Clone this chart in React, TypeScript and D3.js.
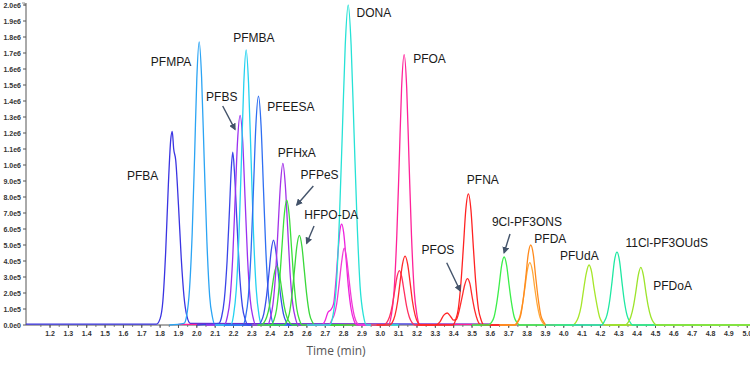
import React from "react";
import * as d3 from "d3";

type Pt = [number, number];

// each trace: [retention time (min), intensity (x1e5 counts)]
const pfba: Pt[] = [[1.069,0.06],[1.78,0.06],[1.80,0.4],[1.815,1.5],[1.83,4.5],[1.845,8.8],[1.858,11.6],[1.866,12.1],[1.874,11.0],[1.885,10.3],[1.9,7.5],[1.915,4.2],[1.93,1.8],[1.945,0.6],[1.965,0.1],[3.6,0.06]];
const pfmpa: Pt[] = [[1.85,0],[1.93,0.1],[1.945,0.6],[1.96,2.2],[1.975,5.8],[1.988,10.6],[2.0,15.4],[2.013,17.7],[2.026,15.5],[2.04,10.4],[2.055,5.2],[2.07,1.8],[2.085,0.5],[2.1,0],[2.4,0]];
const blue219: Pt[] = [[2.0,0],[2.12,0.1],[2.135,0.5],[2.15,1.6],[2.165,4.0],[2.178,7.2],[2.188,9.8],[2.196,10.8],[2.205,9.6],[2.218,6.6],[2.232,3.4],[2.248,1.2],[2.265,0.3],[2.28,0],[2.5,0]];
const pfbs: Pt[] = [[2.05,0],[2.15,0],[2.166,0.5],[2.181,1.6],[2.196,4.3],[2.209,7.9],[2.222,11.5],[2.236,13.1],[2.25,11.5],[2.263,7.9],[2.276,4.3],[2.291,1.6],[2.306,0.5],[2.321,0],[2.6,0]];
const pfmba: Pt[] = [[2.1,0],[2.185,0],[2.2,0.6],[2.215,2.2],[2.23,5.7],[2.243,10.3],[2.256,15.1],[2.269,17.2],[2.282,15.1],[2.296,10.3],[2.309,5.7],[2.324,2.2],[2.339,0.6],[2.354,0],[2.6,0]];
const pfeesa: Pt[] = [[2.15,0],[2.25,0],[2.266,0.5],[2.281,1.8],[2.296,4.7],[2.309,8.6],[2.322,12.5],[2.336,14.3],[2.35,12.5],[2.363,8.6],[2.376,4.7],[2.391,1.8],[2.406,0.5],[2.421,0],[2.7,0]];
const blue242: Pt[] = [[2.25,0],[2.335,0],[2.35,0.2],[2.365,0.7],[2.38,1.8],[2.393,3.2],[2.405,4.6],[2.418,5.3],[2.431,4.6],[2.444,3.2],[2.457,1.8],[2.472,0.7],[2.487,0.2],[2.5,0],[2.7,0]];
const green243: Pt[] = [[2.3,0],[2.35,0],[2.366,0.15],[2.381,0.5],[2.396,1.2],[2.409,2.2],[2.422,3.2],[2.436,3.7],[2.45,3.2],[2.463,2.2],[2.476,1.2],[2.491,0.5],[2.506,0.15],[2.52,0],[2.7,0]];
const pfhxa: Pt[] = [[2.3,0],[2.385,0],[2.4,0.4],[2.415,1.3],[2.43,3.3],[2.443,6.1],[2.456,8.8],[2.469,10.1],[2.482,8.8],[2.495,6.1],[2.508,3.3],[2.523,1.3],[2.538,0.4],[2.553,0],[2.8,0]];
const pfpes: Pt[] = [[2.33,0],[2.405,0],[2.42,0.3],[2.435,1.0],[2.45,2.6],[2.463,4.7],[2.476,6.8],[2.49,7.8],[2.504,6.8],[2.517,4.7],[2.53,2.6],[2.545,1.0],[2.56,0.3],[2.575,0],[2.8,0]];
const hfpoda: Pt[] = [[2.4,0],[2.474,0],[2.489,0.2],[2.504,0.7],[2.519,1.9],[2.532,3.4],[2.545,4.9],[2.559,5.6],[2.573,4.9],[2.586,3.4],[2.599,1.9],[2.614,0.7],[2.629,0.2],[2.644,0],[2.9,0]];
const magenta279: Pt[] = [[2.6,0],[2.68,0],[2.7,0.3],[2.715,0.8],[2.73,0.95],[2.745,1.3],[2.757,2.6],[2.77,4.6],[2.781,6.0],[2.79,6.3],[2.8,5.8],[2.813,4.2],[2.826,2.4],[2.841,1.0],[2.856,0.3],[2.875,0],[3.0,0]];
const magenta280: Pt[] = [[2.65,0],[2.72,0],[2.735,0.3],[2.748,0.6],[2.762,1.3],[2.776,2.6],[2.79,4.0],[2.803,4.8],[2.816,4.2],[2.83,2.8],[2.845,1.4],[2.86,0.5],[2.875,0.1],[2.89,0],[3.0,0]];
const dona: Pt[] = [[2.6,0],[2.725,0],[2.742,0.6],[2.76,2.4],[2.777,6.6],[2.793,12.0],[2.809,17.5],[2.825,20.0],[2.841,17.5],[2.857,12.0],[2.873,6.6],[2.89,2.4],[2.908,0.6],[2.925,0],[3.1,0]];
const pfoa: Pt[] = [[1.9,0.04],[3.045,0.04],[3.06,0.6],[3.075,2.1],[3.09,5.6],[3.103,10.1],[3.116,14.8],[3.13,16.9],[3.144,14.8],[3.157,10.1],[3.17,5.6],[3.185,2.1],[3.2,0.6],[3.215,0.04],[3.6,0.04]];
const red310: Pt[] = [[2.95,0],[3.02,0],[3.035,0.15],[3.05,0.5],[3.065,1.2],[3.078,2.1],[3.091,3.0],[3.104,3.4],[3.117,3.0],[3.13,2.1],[3.143,1.2],[3.158,0.5],[3.173,0.15],[3.19,0],[3.3,0]];
const red313: Pt[] = [[2.98,0],[3.05,0],[3.065,0.15],[3.08,0.6],[3.095,1.5],[3.108,2.7],[3.121,3.8],[3.135,4.3],[3.149,3.8],[3.162,2.7],[3.175,1.5],[3.19,0.6],[3.205,0.15],[3.22,0],[3.3,0]];
const pfos: Pt[] = [[3.2,0],[3.3,0],[3.325,0.2],[3.345,0.6],[3.365,0.75],[3.385,0.5],[3.4,0.3],[3.415,0.35],[3.43,0.9],[3.445,1.7],[3.46,2.5],[3.474,2.9],[3.488,2.6],[3.5,1.8],[3.515,0.9],[3.53,0.3],[3.55,0],[3.7,0]];
const pfna: Pt[] = [[3.3,0],[3.395,0],[3.41,0.3],[3.425,1.0],[3.44,2.7],[3.453,4.9],[3.466,7.2],[3.48,8.2],[3.494,7.2],[3.507,4.9],[3.52,2.7],[3.535,1.0],[3.55,0.3],[3.565,0],[3.7,0]];
const cl9pf3ons: Pt[] = [[3.5,0],[3.59,0],[3.605,0.15],[3.62,0.5],[3.635,1.4],[3.648,2.5],[3.661,3.7],[3.675,4.25],[3.689,3.7],[3.702,2.5],[3.715,1.4],[3.73,0.5],[3.745,0.15],[3.76,0],[3.9,0]];
const pfda: Pt[] = [[3.65,0],[3.735,0],[3.75,0.2],[3.765,0.6],[3.78,1.7],[3.793,3.0],[3.806,4.4],[3.82,5.0],[3.834,4.4],[3.847,3.0],[3.86,1.7],[3.875,0.6],[3.89,0.2],[3.905,0],[4.0,0]];
const pfda2: Pt[] = [[3.65,0],[3.73,0],[3.745,0.15],[3.76,0.5],[3.775,1.3],[3.788,2.3],[3.801,3.4],[3.815,3.9],[3.829,3.4],[3.842,2.3],[3.855,1.3],[3.87,0.5],[3.885,0.15],[3.9,0],[4.0,0]];
const pfuda: Pt[] = [[3.95,0],[4.05,0],[4.065,0.15],[4.08,0.5],[4.095,1.2],[4.108,2.2],[4.122,3.2],[4.138,3.75],[4.152,3.3],[4.165,2.3],[4.18,1.3],[4.195,0.5],[4.21,0.15],[4.225,0],[5.05,0]];
const cl11pf3ouds: Pt[] = [[3.9,0],[4.205,0],[4.22,0.2],[4.235,0.6],[4.25,1.5],[4.263,2.7],[4.276,4.0],[4.29,4.55],[4.304,4.0],[4.317,2.7],[4.33,1.5],[4.345,0.6],[4.36,0.2],[4.375,0],[5.05,0]];
const pfdoa: Pt[] = [[4.25,0],[4.335,0],[4.35,0.15],[4.365,0.5],[4.38,1.2],[4.393,2.1],[4.406,3.1],[4.42,3.6],[4.434,3.1],[4.447,2.1],[4.46,1.2],[4.475,0.5],[4.49,0.15],[4.505,0],[5.05,0]];

const yTickValues = [0, 1, 2, 3, 4, 5, 6, 7, 8, 9, 10, 11, 12, 13, 14, 15, 16, 17, 18, 19, 20];
const yTickLabels = ["0.0e0", "1.0e5", "2.0e5", "3.0e5", "4.0e5", "5.0e5", "6.0e5", "7.0e5", "8.0e5", "9.0e5",
  "1.0e6", "1.1e6", "1.2e6", "1.3e6", "1.4e6", "1.5e6", "1.6e6", "1.7e6", "1.8e6", "1.9e6", "2.0e6"];

// compound labels and where they sit, in [time, intensity]
const peakLabels = ["PFBA", "PFMPA", "PFBS", "PFMBA", "PFEESA", "PFHxA", "PFPeS", "HFPO-DA", "DONA", "PFOA",
  "PFOS", "PFNA", "9Cl-PF3ONS", "PFDA", "PFUdA", "11Cl-PF3OUdS", "PFDoA"];
const labelAnchors: Pt[] = [[1.705,9.06],[1.8595,16.16],[2.136,14.0],[2.311,17.71],[2.5125,13.38],[2.545,10.5],
  [2.669,9.15],[2.733,6.6],[2.965,19.25],[3.268,16.4],[3.314,4.42],[3.559,8.79],[3.799,6.19],[3.927,5.125],
  [4.085,4.04],[4.561,4.875],[4.593,2.17]];
const arrows: [Pt, Pt][] = [
  [[2.141,13.69],[2.208,12.23]],
  [[2.635,8.69],[2.545,7.5]],
  [[2.639,6.19],[2.599,5.11]],
  [[3.362,3.89],[3.435,2.14]],
  [[3.707,5.69],[3.675,4.52]],
];

const traces = [
  { data: pfba, color: "#3a34e2" },
  { data: pfoa, color: "#ff2299" },
  { data: pfmpa, color: "#2ba4f4" },
  { data: blue219, color: "#3a45e8" },
  { data: pfbs, color: "#9a30f0" },
  { data: pfmba, color: "#24d2f0" },
  { data: pfeesa, color: "#2f6ff2" },
  { data: blue242, color: "#3a4fe8" },
  { data: green243, color: "#3ad83a" },
  { data: pfhxa, color: "#a232e8" },
  { data: pfpes, color: "#3ae03a" },
  { data: hfpoda, color: "#3ad83a" },
  { data: magenta279, color: "#ee22dd" },
  { data: magenta280, color: "#f23ad6" },
  { data: dona, color: "#26e2d6" },
  { data: red310, color: "#ff3060" },
  { data: red313, color: "#ff2a2a" },
  { data: pfos, color: "#ff2a2a" },
  { data: pfna, color: "#ff2222" },
  { data: cl9pf3ons, color: "#3cee4a" },
  { data: pfda2, color: "#ffa83a" },
  { data: pfda, color: "#ff8a1c" },
  { data: pfuda, color: "#a6e62a" },
  { data: cl11pf3ouds, color: "#1ee8a2" },
  { data: pfdoa, color: "#9ce42a" },
];

const W = 750;
const H = 368;
const left = 26;
const bottom = 325;

export default function App() {
  const x = d3.scaleLinear().domain([1.069, 5.015]).range([left, W]);
  const y = d3.scaleLinear().domain([0, 20]).range([bottom, 5]);
  const line = d3
    .line<Pt>()
    .x((d) => x(d[0]))
    .y((d) => y(d[1]))
    .curve(d3.curveMonotoneX);

  const xMajor = d3.range(12, 51).map((v) => v / 10);
  const xMinor = d3.range(23, 101).map((v) => v / 20);
  const tickFont = "'Liberation Sans', Arial, sans-serif";

  return (
    <svg
      width={W}
      height={H}
      style={{ position: "absolute", left: 0, top: 0, background: "#fff", display: "block" }}
    >
      <defs>
        <clipPath id="plot">
          <rect x={left} y={0} width={W - left} height={bottom + 2} />
        </clipPath>
        <marker id="arrowhead" viewBox="0 0 10 10" refX="8" refY="5" markerWidth="5" markerHeight="5" orient="auto">
          <path d="M0,0 L10,5 L0,10 z" fill="#43536a" />
        </marker>
      </defs>

      {/* y axis */}
      <line x1={left} x2={left} y1={3} y2={bottom} stroke="#555" strokeWidth={1} />
      <path d={`M${left - 4},${y(20) - 2}h3v3`} fill="none" stroke="#777" strokeWidth={0.8} />
      {yTickValues.map((v, i) => (
        <g key={"y" + v}>
          <line x1={left - 3} x2={left} y1={y(v)} y2={y(v)} stroke="#555" />
          <text
            x={left - 5}
            y={y(v) + 2.5}
            textAnchor="end"
            fontFamily={tickFont}
            fontSize={7}
            fontWeight={700}
            fill="#333"
          >
            {yTickLabels[i]}
          </text>
        </g>
      ))}

      {/* x axis */}
      <line x1={left} x2={W} y1={bottom} y2={bottom} stroke="#555" strokeWidth={1} />
      {xMinor.map((v) => (
        <line key={"m" + v} x1={x(v)} x2={x(v)} y1={bottom} y2={bottom + 2} stroke="#666" strokeWidth={0.8} />
      ))}
      {xMajor.map((v) => (
        <g key={"x" + v}>
          <line x1={x(v)} x2={x(v)} y1={bottom} y2={bottom + 3} stroke="#555" />
          <text
            x={x(v)}
            y={bottom + 11}
            textAnchor="middle"
            fontFamily={tickFont}
            fontSize={7}
            fontWeight={700}
            fill="#333"
          >
            {v.toFixed(1)}
          </text>
        </g>
      ))}
      <text x={336} y={355} textAnchor="middle" fontFamily="'Open Sans', sans-serif" fontSize={12} fill="#555">
        Time (min)
      </text>

      {/* traces */}
      <g clipPath="url(#plot)">
        {traces.map((t, i) => (
          <path key={"t" + i} d={line(t.data) ?? ""} fill="none" stroke={t.color} strokeWidth={1.3} />
        ))}
      </g>

      {/* labels */}
      {peakLabels.map((name, i) => (
        <text
          key={name}
          x={x(labelAnchors[i][0])}
          y={y(labelAnchors[i][1])}
          textAnchor="middle"
          fontFamily={tickFont}
          fontSize={12}
          fill="#1a1a1a"
        >
          {name}
        </text>
      ))}
      {arrows.map(([a, b], i) => (
        <line
          key={"a" + i}
          x1={x(a[0])}
          y1={y(a[1])}
          x2={x(b[0])}
          y2={y(b[1])}
          stroke="#43536a"
          strokeWidth={1.4}
          markerEnd="url(#arrowhead)"
        />
      ))}
    </svg>
  );
}
